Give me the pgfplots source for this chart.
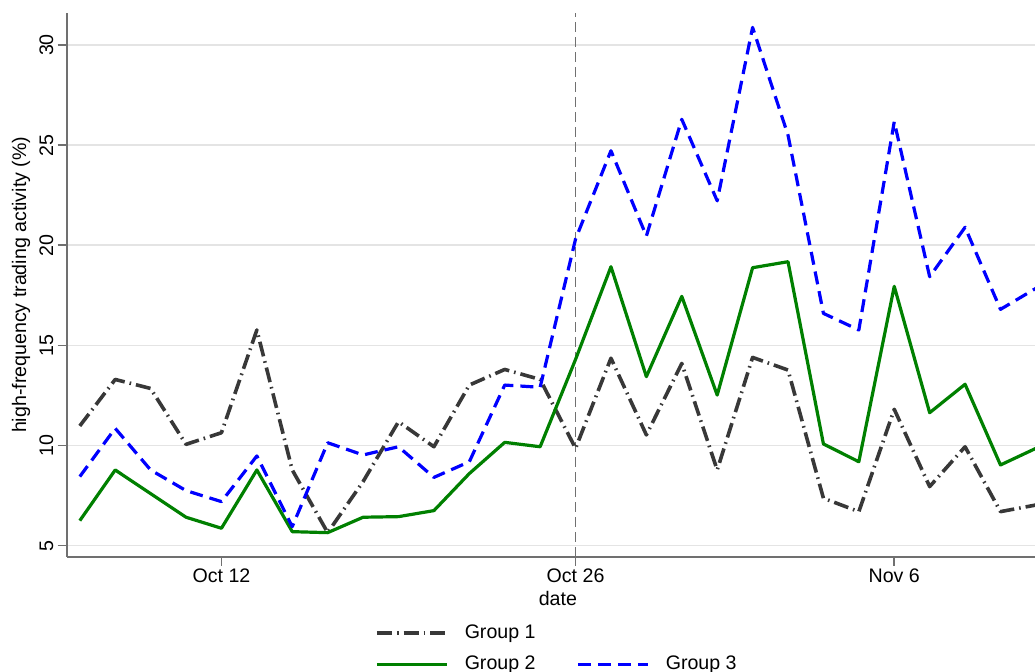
\documentclass[border=0pt]{standalone}
\usepackage{fontspec}
\setmainfont{Liberation Sans}
\usepackage{pgfplots}
\usepackage{pgfplotstable}
\pgfplotsset{compat=1.18}
\definecolor{gone}{HTML}{383838}
\definecolor{gtwo}{HTML}{008000}
\definecolor{gthree}{HTML}{0000FF}
\definecolor{axgray}{HTML}{707070}
\definecolor{gridgray}{HTML}{E4E4E4}

\pgfplotstableread{
idx g1 g2 g3
0 10.98 6.25 8.45
1 13.30 8.78 10.86
2 12.85 7.60 8.78
3 10.06 6.42 7.75
4 10.64 5.87 7.20
5 15.77 8.78 9.48
6 8.78 5.70 5.95
7 5.65 5.65 10.14
8 8.20 6.42 9.53
9 11.19 6.45 9.94
10 9.94 6.75 8.41
11 13.02 8.60 9.19
12 13.80 10.16 13.02
13 13.30 9.94 12.91
14 9.86 14.30 20.31
15 14.36 18.93 24.72
16 10.53 13.44 20.46
17 14.10 17.45 26.29
18 8.78 12.52 22.22
19 14.40 18.88 30.88
20 13.77 19.18 25.50
21 7.37 10.08 16.60
22 6.70 9.19 15.77
23 11.81 17.95 26.17
24 7.95 11.64 18.43
25 9.94 13.06 20.90
26 6.70 9.03 16.80
27 7.03 9.86 17.85
}\datatable

\begin{document}
\begin{tikzpicture}[x=1pt,y=1pt,font=\fontsize{9.8}{11.8}\selectfont]
\begin{axis}[
  at={(0,0)}, anchor=south west, scale only axis,
  width=491.15pt, height=271.85pt,
  xmin=-0.37, xmax=27.37, ymin=4.45, ymax=31.6,
  axis x line*=bottom, axis y line*=left,
  axis line style={axgray, line width=0.9pt},
  xtick={4,14,23}, xticklabels={Oct 12, Oct 26, Nov 6},
  ytick={5,10,15,20,25,30},
  ymajorgrids, grid style={gridgray, line width=0.8pt},
  tick style={axgray, line width=0.8pt}, tick align=outside, major tick length=4.5pt,
  yticklabel style={rotate=90, anchor=south, inner sep=2pt},
  xticklabel style={anchor=north, inner sep=1.5pt},
  /pgf/number format/assume math mode=true,
  xlabel={date}, ylabel={high-frequency trading activity (\%)},
  xlabel style={at={(axis description cs:0.5,-0.076)}, anchor=center},
  ylabel style={at={(axis description cs:-0.0465,0.5)}, anchor=center, rotate=0},
  legend columns=2,
  legend image code/.code={\draw[#1] (0pt,0pt) -- (35pt,0pt);},
  legend style={draw=none, fill=none, at={(axis description cs:0.3075,-0.113)}, anchor=north west,
    /tikz/every odd column/.append style={column sep=7pt},
    /tikz/every even column/.append style={column sep=19.5pt},
    row sep=5.5pt, nodes={inner sep=1pt, anchor=west}},
  line join=round,
]
\draw[axgray, dash pattern=on 5pt off 2.5pt, line width=0.6pt] (axis cs:14,4.45) -- (axis cs:14,31.6);
\addplot[gone, line width=1.8pt, dash pattern=on 7.5pt off 2.5pt on 0.8pt off 2.5pt] table[x=idx,y=g1] {\datatable};
\addlegendentry{Group 1}
\addlegendimage{empty legend}
\addlegendentry{}
\addplot[gtwo, line width=1.6pt] table[x=idx,y=g2] {\datatable};
\addlegendentry{Group 2}
\addplot[gthree, line width=1.6pt, dash pattern=on 6.5pt off 3.5pt] table[x=idx,y=g3] {\datatable};
\addlegendentry{Group 3}
\end{axis}
\pgfresetboundingbox
\useasboundingbox (-33.35pt,-57.65pt) rectangle (484.15pt,278.35pt);
\end{tikzpicture}
\end{document}
